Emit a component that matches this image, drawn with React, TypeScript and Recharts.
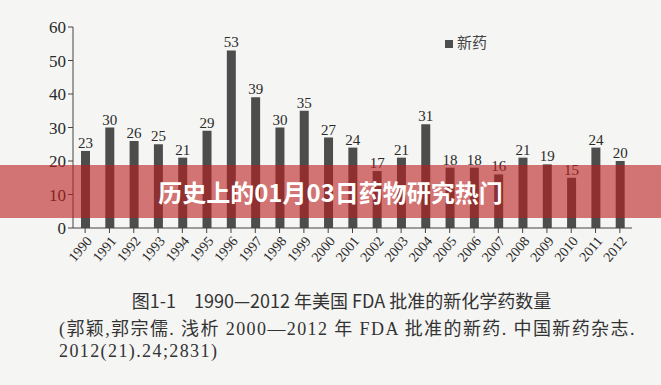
import { BarChart, Bar, XAxis, YAxis, LabelList, Legend } from 'recharts';

const years = [
  '1990', '1991', '1992', '1993', '1994', '1995', '1996', '1997', '1998', '1999', '2000', '2001',
  '2002', '2003', '2004', '2005', '2006', '2007', '2008', '2009', '2010', '2011', '2012',
];
const newDrugs = [23, 30, 26, 25, 21, 29, 53, 39, 30, 35, 27, 24, 17, 21, 31, 18, 18, 16, 21, 19, 15, 24, 20];
const yTicks = [0, 10, 20, 30, 40, 50, 60];

const data = years.map((year, i) => ({ year, value: newDrugs[i] }));

const serif = '"Liberation Serif", "DejaVu Serif", "Noto Sans CJK SC", serif';
const cjkSans = '"Noto Sans CJK SC", "Noto Sans", sans-serif';

export default function App() {
  return (
    <div style={{ position: 'absolute', left: 0, top: 0, width: 661, height: 385, background: '#f5f5f3', overflow: 'hidden' }}>
      <BarChart width={661} height={385} data={data} margin={{ top: 27, right: 29, bottom: 97, left: 0 }}>
        <XAxis
          dataKey="year"
          interval={0}
          height={60}
          angle={-50}
          textAnchor="end"
          tick={{ fontSize: 14, fill: '#2a2a2a', fontFamily: serif }}
          stroke="#444"
          tickSize={5}
        />
        <YAxis
          domain={[0, 60]}
          ticks={yTicks}
          width={73}
          tick={{ fontSize: 17, fill: '#2a2a2a', fontFamily: serif }}
          stroke="#444"
          tickSize={5}
        />
        <Legend
          layout="horizontal"
          verticalAlign="middle"
          align="center"
          iconType="square"
          iconSize={8}
          wrapperStyle={{ top: 31, left: 441, width: 60, fontFamily: cjkSans, fontSize: 15 }}
          formatter={(v) => <span style={{ color: '#444' }}>{v}</span>}
        />
        <Bar dataKey="value" name="新药" fill="#4d4d4d" barSize={9} isAnimationActive={false}>
          <LabelList dataKey="value" position="top" offset={3} style={{ fontSize: 15, fill: '#2a2a2a', fontFamily: serif }} />
        </Bar>
      </BarChart>
      <div
        style={{
          position: 'absolute', left: 0, top: 165, width: 661, height: 53,
          background: 'rgba(186, 30, 30, 0.6)', color: '#fff', fontFamily: cjkSans,
          fontWeight: 700, fontSize: 24, lineHeight: '53px', textAlign: 'center',
        }}
      >
        历史上的01月03日药物研究热门
      </div>
      <div style={{ position: 'absolute', left: 0, top: 287, width: 683, textAlign: 'center', fontFamily: cjkSans, fontSize: 18, color: '#333', whiteSpace: 'nowrap' }}>
        图1-1　1990—2012 年美国 FDA 批准的新化学药数量
      </div>
      <div style={{ position: 'absolute', left: 59, top: 314, fontFamily: serif, fontSize: 18, letterSpacing: 1.4, color: '#333', whiteSpace: 'nowrap' }}>
        (郭颖,郭宗儒. 浅析 2000—2012 年 FDA 批准的新药. 中国新药杂志.
      </div>
      <div style={{ position: 'absolute', left: 59, top: 341, fontFamily: serif, fontSize: 18, letterSpacing: 1.4, color: '#333', whiteSpace: 'nowrap' }}>
        2012(21).24;2831)
      </div>
    </div>
  );
}
